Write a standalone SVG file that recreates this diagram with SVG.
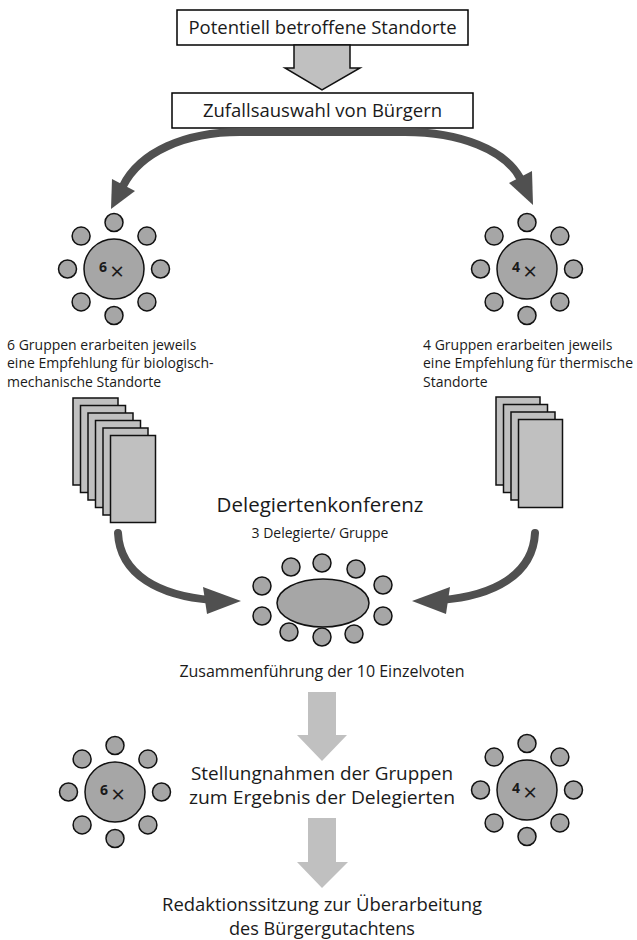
<svg xmlns="http://www.w3.org/2000/svg" xmlns:xlink="http://www.w3.org/1999/xlink" width="637" height="940" viewBox="0 0 637 940">
  <style>
    text { font-family: "Open Sans", "Liberation Sans", sans-serif; fill: #1a1a1a; }
    .box { fill: #ffffff; stroke: #000000; stroke-width: 1.5; }
    .seat { fill: #a6a6a6; stroke: #111111; stroke-width: 1.5; }
    .table { fill: #a6a6a6; stroke: #111111; stroke-width: 1.5; }
    .sheet { fill: #c0c0c0; stroke: #111111; stroke-width: 1.5; }
    .flow { fill: none; stroke: #505050; stroke-width: 8; stroke-linecap: round; }
    .head { fill: #505050; }
    .block { fill: #c0c0c0; }
    .num { font-size: 14px; font-weight: bold; text-anchor: middle; }
    .cross { font-size: 24px; text-anchor: middle; }
    .lbl { font-size: 14px; }
    .mid { text-anchor: middle; }
    .big { font-size: 18.5px; text-anchor: middle; }
    .two { font-size: 17.5px; text-anchor: middle; }
  </style>
  <defs>
    <!-- round table with eight seats, centred on the origin -->
    <g id="roundTable">
      <circle class="seat" cx="0" cy="-46.5" r="9"/>
      <circle class="seat" cx="32.9" cy="-32.9" r="9"/>
      <circle class="seat" cx="46.5" cy="0" r="9"/>
      <circle class="seat" cx="32.9" cy="32.9" r="9"/>
      <circle class="seat" cx="0" cy="46.5" r="9"/>
      <circle class="seat" cx="-32.9" cy="32.9" r="9"/>
      <circle class="seat" cx="-46.5" cy="0" r="9"/>
      <circle class="seat" cx="-32.9" cy="-32.9" r="9"/>
      <circle class="table" cx="0" cy="0" r="30"/>
      <text class="cross" x="3" y="11">×</text>
    </g>
  </defs>

  <!-- top boxes -->
  <g id="standorte">
    <rect class="box" x="177" y="10" width="291" height="35"/>
    <text x="322.5" y="34" class="big">Potentiell betroffene Standorte</text>
  </g>
  <g id="zufallsauswahl">
    <rect class="box" x="172" y="93" width="301" height="35"/>
    <text x="322.5" y="117" class="big">Zufallsauswahl von Bürgern</text>
  </g>

  <!-- connectors -->
  <g id="connectors">
    <!-- block arrow between the top boxes -->
    <polygon points="294,45 350,45 350,68 360,68 322,90 285,68 294,68" fill="#c0c0c0" stroke="#111111" stroke-width="1.5"/>
    <!-- split to both group types -->
    <path class="flow" stroke-linecap="butt" d="M 323 132 L 240 132 C 185 132 140 152 123 186"/>
    <polygon class="head" points="111,209 112,179 135,191"/>
    <path class="flow" stroke-linecap="butt" d="M 322 132 L 405 132 C 460 132 505 150 520 178"/>
    <polygon class="head" points="533,205 509,183 532,171"/>
    <!-- recommendations to the delegate conference -->
    <path class="flow" d="M 118 533 C 120 575 160 596 212 600"/>
    <polygon class="head" points="241,601 203,587 207,614"/>
    <path class="flow" d="M 535 533 C 533 575 493 596 441 600"/>
    <polygon class="head" points="412,601 450,587 446,614"/>
    <!-- light grey block arrows -->
    <polygon class="block" points="308,692 336,692 336,735 347,735 322,761 297,735 308,735"/>
    <polygon class="block" points="308,818 336,818 336,862 348,862 322,888 297,862 308,862"/>
  </g>

  <!-- group tables, first round -->
  <g id="tables-bio">
    <use xlink:href="#roundTable" x="114" y="269"/>
    <text class="num" x="103" y="272">6</text>
  </g>
  <g id="tables-therm">
    <use xlink:href="#roundTable" x="527" y="269"/>
    <text class="num" x="516" y="272">4</text>
  </g>

  <!-- group descriptions -->
  <g id="text-bio">
    <text class="lbl" x="7" y="350">6 Gruppen erarbeiten jeweils</text>
    <text class="lbl" x="7" y="368">eine Empfehlung für biologisch-</text>
    <text class="lbl" x="7" y="387">mechanische Standorte</text>
  </g>
  <g id="text-therm">
    <text class="lbl" x="423" y="350">4 Gruppen erarbeiten jeweils</text>
    <text class="lbl" x="423" y="368">eine Empfehlung für thermische</text>
    <text class="lbl" x="423" y="387">Standorte</text>
  </g>

  <!-- recommendation stacks -->
  <g id="stack-bio">
    <rect class="sheet" x="73" y="398" width="45" height="87"/>
    <rect class="sheet" x="80.5" y="405.5" width="45" height="87"/>
    <rect class="sheet" x="88" y="413" width="45" height="87"/>
    <rect class="sheet" x="95.5" y="420.5" width="45" height="87"/>
    <rect class="sheet" x="103" y="428" width="45" height="87"/>
    <rect class="sheet" x="110.5" y="435.5" width="45" height="87"/>
  </g>
  <g id="stack-therm">
    <rect class="sheet" x="496" y="397" width="44" height="88"/>
    <rect class="sheet" x="503.5" y="404.5" width="44" height="88"/>
    <rect class="sheet" x="511" y="412" width="44" height="88"/>
    <rect class="sheet" x="518.5" y="419.5" width="44" height="88"/>
  </g>

  <!-- delegate conference -->
  <g id="delegiertenkonferenz">
    <text x="320" y="512" class="mid" font-size="20.5">Delegiertenkonferenz</text>
    <text x="320" y="538" class="mid" font-size="14">3 Delegierte/ Gruppe</text>
    <circle class="seat" cx="322" cy="563" r="9"/>
    <circle class="seat" cx="291" cy="567" r="9"/>
    <circle class="seat" cx="356" cy="569" r="9"/>
    <circle class="seat" cx="262" cy="586" r="9"/>
    <circle class="seat" cx="262" cy="616" r="9"/>
    <circle class="seat" cx="383" cy="585" r="9"/>
    <circle class="seat" cx="383" cy="616" r="9"/>
    <circle class="seat" cx="289" cy="632" r="9"/>
    <circle class="seat" cx="322" cy="637" r="9"/>
    <circle class="seat" cx="354" cy="634" r="9"/>
    <ellipse class="table" cx="323" cy="603" rx="46" ry="24"/>
  </g>

  <g id="zusammenfuehrung">
    <text x="322" y="677" class="mid" font-size="16">Zusammenführung der 10 Einzelvoten</text>
  </g>

  <!-- group tables, second round -->
  <g id="tables-bio-2">
    <use xlink:href="#roundTable" x="115" y="792"/>
    <text class="num" x="104" y="795">6</text>
  </g>
  <g id="tables-therm-2">
    <use xlink:href="#roundTable" x="527" y="790"/>
    <text class="num" x="516" y="793">4</text>
  </g>

  <g id="stellungnahmen">
    <text x="322" y="780" class="two" textLength="262" lengthAdjust="spacingAndGlyphs">Stellungnahmen der Gruppen</text>
    <text x="322" y="804" class="two" textLength="266" lengthAdjust="spacingAndGlyphs">zum Ergebnis der Delegierten</text>
  </g>

  <g id="redaktionssitzung">
    <text x="322" y="911" class="two" textLength="320" lengthAdjust="spacingAndGlyphs">Redaktionssitzung zur Überarbeitung</text>
    <text x="322" y="935" class="two" textLength="186" lengthAdjust="spacingAndGlyphs">des Bürgergutachtens</text>
  </g>
</svg>
